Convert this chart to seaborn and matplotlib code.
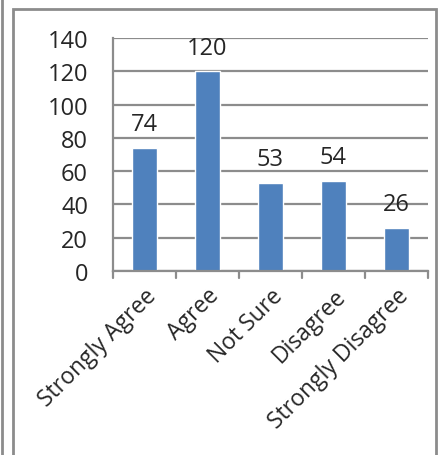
import matplotlib
matplotlib.use('Agg')
import matplotlib.pyplot as plt
import seaborn as sns
from matplotlib.patches import Rectangle
from matplotlib.lines import Line2D

categories = ['Strongly Agree', 'Agree', 'Not Sure', 'Disagree', 'Strongly Disagree']
counts = [74, 120, 53, 54, 26]
y_ticks = [0, 20, 40, 60, 80, 100, 120, 140]

BAR_COLOR = '#4F81BD'
GRID_COLOR = '#8C8C8C'

sns.set_style("white")
plt.rcParams['font.family'] = ['Open Sans', 'DejaVu Sans']
plt.rcParams['font.size'] = 17

fig = plt.figure(figsize=(4.46, 4.56), dpi=100)
ax = fig.add_axes([0.2534, 0.4035, 0.7062, 0.511])

sns.barplot(x=categories, y=counts, color=BAR_COLOR, width=0.4, saturation=1, ax=ax)

ax.set_ylim(0, 140)
ax.set_xlim(-0.5, len(categories) - 0.5)
ax.set_yticks(y_ticks)
ax.yaxis.grid(True, color=GRID_COLOR, linewidth=1.6)
ax.set_axisbelow(True)

for side in ['top', 'right']:
    ax.spines[side].set_visible(False)
for side in ['left', 'bottom']:
    ax.spines[side].set_color(GRID_COLOR)
    ax.spines[side].set_linewidth(1.6)

ax.tick_params(axis='y', length=8, width=1.6, color=GRID_COLOR, labelsize=17, pad=10)
ax.set_xticks(range(len(categories)))
ax.set_xticklabels(categories, rotation=45, ha='right', rotation_mode='anchor', fontsize=16.5)
ax.tick_params(axis='x', length=0, pad=9)

# category boundary ticks like Excel
for b in [i - 0.5 for i in range(len(categories) + 1)]:
    ax.plot([b, b], [0, -4.5], color=GRID_COLOR, lw=1.6, clip_on=False)

for i, v in enumerate(counts):
    ax.text(i, v + 7, str(v), ha='center', va='bottom', fontsize=17)

ax.set_xlabel('')
ax.set_ylabel('')

# chart frame
fig.patches.append(Rectangle((13 / 446, -0.1), (436 - 13) / 446, 1.1 - 10 / 456,
                             transform=fig.transFigure, fill=False,
                             edgecolor='#8C8C8C', linewidth=2))
fig.lines.append(Line2D([2 / 446, 2 / 446], [0, 1], transform=fig.transFigure,
                        color='#8C8C8C', linewidth=2))

fig.savefig('out.png', dpi=100)
